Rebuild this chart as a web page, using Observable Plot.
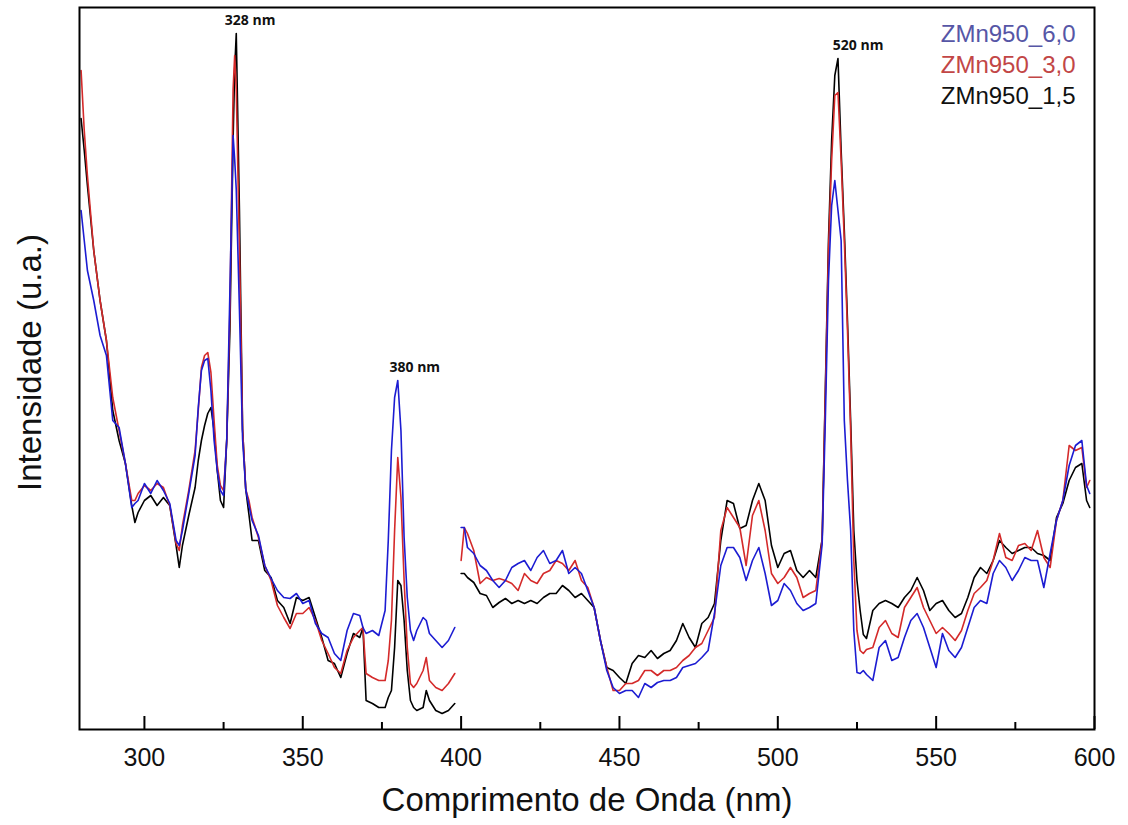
<!DOCTYPE html>
<html><head><meta charset="utf-8">
<script src="https://cdn.jsdelivr.net/npm/d3@7"></script>
<script src="https://cdn.jsdelivr.net/npm/@observablehq/plot@0.6"></script>
<style>html,body{margin:0;padding:0;background:#fff}svg{display:block}</style>
</head><body><div id="chart"></div>
<script>
// Wavelengths (nm), first segment 280-398
const wlA = [
  280,281,282,284,286,288,290,292,294,296,
  297,298,300,302,304,306,308,310,311,312,
  314,316,317,318,319,320,321,322,323,324,
  325,326,327,328,328.5,329,330,331,332,333,
  334,336,338,340,342,344,346,348,350,352,
  354,356,358,360,362,364,366,368,369,370,
  372,374,376,377,378,379,380,381,382,383,
  384,385,386,388,389,390,392,394,396,398];
// second segment 400-600
const wlB = [
  400,401,402,404,406,408,410,412,414,416,
  418,420,422,424,426,428,430,432,434,436,
  438,440,442,444,446,448,450,452,454,456,
  458,460,462,464,466,468,470,472,474,476,
  478,480,482,484,486,488,490,492,494,496,
  498,500,502,504,506,508,510,512,514,515,
  516,517,518,519,520,521,522,523,524,525,
  526,527,528,530,532,534,536,538,540,542,
  544,546,548,550,552,554,556,558,560,562,
  564,566,568,570,572,574,576,578,580,582,
  584,586,588,590,592,594,596,597.5,598.5];

// Intensity (u.a.) ZMn950_1,5 (black)
const zmn15A = [
  611,579,544,479,429,389,319,289,266,224,
  207,217,229,234,224,232,224,184,162,184,
  214,242,269,289,304,316,322,299,259,229,
  222,290,400,590,660,696,520,300,240,215,
  189,189,159,152,129,122,106,132,129,132,
  112,92,69,66,52,76,96,92,102,29,
  26,22,22,32,39,82,149,144,109,59,
  29,22,19,22,39,29,19,16,19,26];
const zmn15B = [
  156,156,152,147,136,134,122,127,131,126,
  129,126,129,126,132,136,136,144,139,132,
  136,129,122,89,62,59,52,46,66,74,
  72,79,71,76,79,89,106,92,82,106,
  112,126,189,229,226,201,204,229,246,229,
  184,162,176,179,159,152,159,152,190,339,
  489,589,654,671,579,499,409,309,199,149,
  119,95,91,119,126,129,126,122,132,139,
  152,139,119,126,129,119,112,116,132,152,
  162,156,169,189,182,176,179,182,182,176,
  174,169,212,226,249,262,266,229,222];

// ZMn950_3,0 (red)
const zmn30A = [
  659,599,554,479,429,389,332,299,266,229,
  229,236,244,239,246,242,224,186,179,204,
  239,279,319,362,374,377,357,309,264,244,
  239,289,420,640,674,640,480,300,240,229,
  212,192,164,149,124,112,101,116,116,122,
  109,89,76,62,56,79,92,99,102,56,
  52,49,49,69,109,199,272,232,149,82,
  46,42,46,59,72,49,42,39,46,56];
const zmn30B = [
  169,202,196,179,146,152,149,151,149,146,
  139,156,149,146,156,159,169,166,159,169,
  149,142,122,89,62,39,39,46,46,49,
  59,59,54,59,59,62,69,74,82,86,
  99,112,199,222,212,202,164,214,229,199,
  156,146,152,162,152,132,136,139,190,334,
  479,569,634,637,569,489,399,299,169,99,
  79,76,80,82,102,109,96,92,122,132,
  142,122,109,96,102,96,89,99,119,136,
  142,149,169,196,172,169,184,186,179,199,
  172,162,209,229,284,279,282,242,249];

// ZMn950_6,0 (blue)
const zmn60A = [
  519,489,459,429,394,374,309,302,266,222,
  226,229,246,236,249,239,226,189,184,199,
  236,274,322,359,369,371,339,289,259,239,
  234,290,440,594,570,540,420,290,240,224,
  209,194,164,151,139,132,131,136,126,129,
  106,96,92,76,69,99,116,114,102,96,
  99,94,119,189,279,332,349,299,192,132,
  99,89,99,112,109,96,89,82,89,102];
const zmn60B = [
  202,202,182,176,164,159,149,142,149,162,
  166,169,159,172,179,166,169,179,156,162,
  156,139,122,89,59,42,36,39,39,32,
  46,42,47,49,49,52,62,64,66,72,
  79,116,164,182,182,172,149,169,182,156,
  124,129,146,139,126,119,122,126,185,309,
  449,524,549,519,489,309,249,199,99,57,
  56,59,55,49,82,89,69,72,92,109,
  116,102,82,62,96,79,72,82,102,122,
  129,126,156,169,162,149,159,172,169,169,
  142,176,209,229,264,284,289,244,236];

const seriesNames = ["ZMn950_6,0", "ZMn950_3,0", "ZMn950_1,5"];
const lineColors = ["#1c1cd2", "#d42a2a", "#000000"];
const legendColors = ["#5656a6", "#c24646", "#111111"];
const xMajorTicks = [300, 350, 400, 450, 500, 550, 600];
const xMinorTicks = [325, 375, 425, 475, 525, 575];
const peakLabels = ["328 nm", "380 nm", "520 nm"];
const peakWavelengths = [328, 380, 520];
const xTitle = "Comprimento de Onda (nm)";
const yTitle = "Intensidade (u.a.)";

// Build table (draw order: black, red, blue)
const segs = {
  "ZMn950_1,5": [zmn15A, zmn15B],
  "ZMn950_3,0": [zmn30A, zmn30B],
  "ZMn950_6,0": [zmn60A, zmn60B]
};
const rows = [];
["ZMn950_1,5", "ZMn950_3,0", "ZMn950_6,0"].forEach(name => {
  const [a, b] = segs[name];
  wlA.forEach((w, i) => rows.push({wl: w, v: a[i], series: name, key: name + "A"}));
  wlB.forEach((w, i) => rows.push({wl: w, v: b[i], series: name, key: name + "B"}));
});
// peak label heights from data maxima near each peak
const peakTops = peakWavelengths.map(p => d3.max(rows.filter(r => Math.abs(r.wl - p) <= 3), r => r.v));

const font = "'Liberation Sans', Arial, sans-serif";
const chart = Plot.plot({
  width: 1128, height: 825,
  marginLeft: 79, marginRight: 34, marginTop: 7, marginBottom: 96,
  style: {fontFamily: font, background: "#fff", color: "#000"},
  x: {domain: [279.5, 600], axis: null},
  y: {domain: [0, 722], axis: null},
  color: {domain: seriesNames, range: lineColors},
  marks: [
    Plot.line(rows, {x: "wl", y: "v", z: "key", stroke: "series", strokeWidth: 1.6, strokeLinejoin: "round"}),
    Plot.ruleX(xMajorTicks, {x: d => d, y1: 0, y2: 13, stroke: "#000", strokeWidth: 2}),
    Plot.ruleX(xMinorTicks, {x: d => d, y1: 0, y2: 7, stroke: "#000", strokeWidth: 2}),
    Plot.frame({stroke: "#000", strokeWidth: 2}),
    Plot.axisX(xMajorTicks, {tickSize: 0, tickPadding: 19, fontSize: 25, label: null, tickFormat: d => String(d), fill: "#111"}),
    Plot.text([xTitle], {frameAnchor: "bottom", lineAnchor: "middle", textAnchor: "middle", dy: 71, fontSize: 33, fill: "#111"}),
    Plot.text([yTitle], {frameAnchor: "left", lineAnchor: "middle", textAnchor: "middle", dx: -49, dy: -6, rotate: -90, fontSize: 33, fill: "#111"}),
    Plot.text(peakLabels, {x: (d, i) => peakWavelengths[i], y: (d, i) => peakTops[i], dx: 17, dy: -13,
      fontSize: 14, fontWeight: "bold", fontFamily: "'Open Sans', 'DejaVu Sans', sans-serif", fill: "#111"}),
    ...seriesNames.map((name, i) => Plot.text([name], {frameAnchor: "top-right", textAnchor: "end", lineAnchor: "middle",
      dx: -19, dy: 27 + 31 * i, fontSize: 24, fill: legendColors[i]}))
  ]
});
document.getElementById("chart").appendChild(chart);
</script>
</body></html>
